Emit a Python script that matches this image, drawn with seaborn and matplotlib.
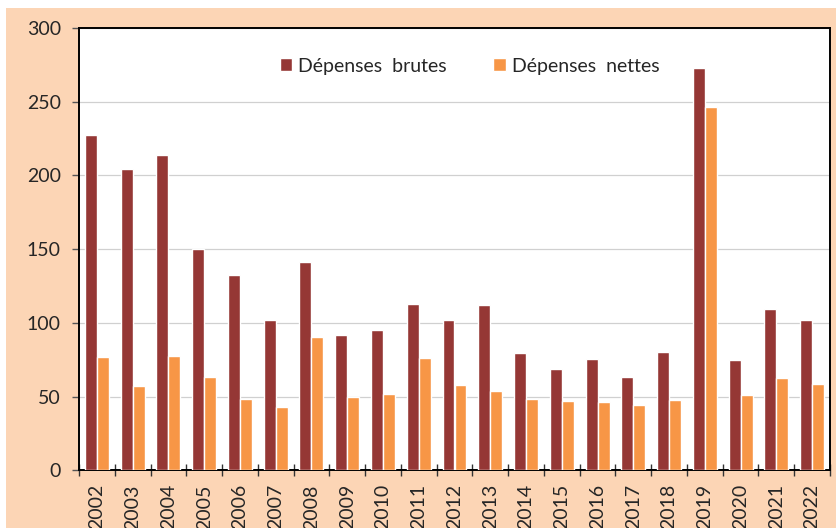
import numpy as np
import pandas as pd
import matplotlib
matplotlib.use('Agg')
import matplotlib.pyplot as plt
import seaborn as sns
from matplotlib.patches import Rectangle

# Values
years = [str(y) for y in range(2002, 2023)]
brutes = [227.5, 204.2, 214.1, 149.9, 132.3, 102.0, 141.1, 91.8, 95.0, 112.6, 101.8,
          111.9, 79.8, 68.5, 75.5, 63.5, 80.5, 273.1, 75.0, 109.4, 101.8]
nettes = [76.7, 57.2, 77.3, 63.1, 48.4, 42.9, 90.4, 49.5, 51.6, 76.0, 57.7,
          53.6, 48.2, 46.8, 46.3, 44.3, 47.7, 246.3, 51.1, 62.4, 58.8]
series_names = ['Dépenses  brutes', 'Dépenses  nettes']
colors = ['#953735', '#F79646']

df = pd.DataFrame({
    'annee': years * 2,
    'valeur': brutes + nettes,
    'serie': [series_names[0]] * len(years) + [series_names[1]] * len(years),
})

sns.set_style('white')
plt.rcParams['font.family'] = ['Lato', 'DejaVu Sans']

fig = plt.figure(figsize=(8.36, 5.28), dpi=100)
fig.patch.set_facecolor('white')
# peach background of the chart area
fig.patches.append(Rectangle((6 / 836, 0), 1, 1 - 8 / 528, transform=fig.transFigure,
                             facecolor='#FCD5B5', edgecolor='none', zorder=-10))
ax = fig.add_axes([79 / 836, 1 - 470.3 / 528, 751 / 836, 442.3 / 528])
ax.set_facecolor('white')

sns.barplot(data=df, x='annee', y='valeur', hue='serie', palette=colors,
            width=0.67, gap=0, saturation=1, ax=ax, zorder=3)

ax.set_ylim(0, 300)
ax.set_xlim(-0.5, len(years) - 0.5)
ax.set_yticks(np.arange(0, 301, 50))
ax.yaxis.grid(True, color='#D0D0D0', lw=0.9, zorder=0)
ax.set_axisbelow(True)
ax.set_xlabel('')
ax.set_ylabel('')

for s in ax.spines.values():
    s.set_color('black')
    s.set_linewidth(1.4)

ax.tick_params(axis='y', direction='out', length=5, width=1, color='#555555',
               labelsize=14, pad=8, left=True)
ax.set_xticks(range(len(years)))
ax.set_xticklabels(years, rotation=90)
ax.tick_params(axis='x', which='major', length=0, labelsize=14, pad=10)
ax.set_xticks(np.arange(-0.5, len(years), 1), minor=True)
ax.tick_params(axis='x', which='minor', direction='inout', length=9, width=1,
               color='#333333', bottom=True)

ax.legend(loc='center', bbox_to_anchor=(0.52, 0.914), ncol=2, frameon=False,
          fontsize=14, handlelength=0.65, handleheight=0.65, handletextpad=0.3,
          columnspacing=2.4)

fig.savefig('out.png', dpi=100)
